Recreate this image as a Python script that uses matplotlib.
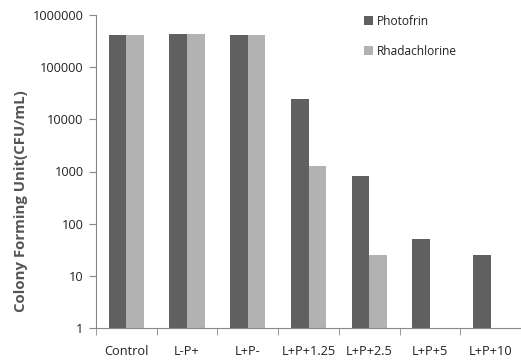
import matplotlib
matplotlib.use("Agg")
import matplotlib.pyplot as plt
import numpy as np
from matplotlib.ticker import FixedLocator, NullLocator, FixedFormatter

categories = ["Control", "L-P+", "L+P-", "L+P+1.25", "L+P+2.5", "L+P+5", "L+P+10"]
photofrin = [420000, 440000, 410000, 24000, 830, 50, 25]
rhadachlorine = [420000, 440000, 410000, 1300, 25, np.nan, np.nan]
y_ticks = [1, 10, 100, 1000, 10000, 100000, 1000000]
y_tick_labels = ["1", "10", "100", "1000", "10000", "100000", "1000000"]

plt.rcParams['font.family'] = ['Open Sans', 'DejaVu Sans']

fig = plt.figure(figsize=(5.21, 3.61), dpi=100)
ax = fig.add_axes([96 / 521, 1 - 328 / 361, 425 / 521, 313 / 361])

x = np.arange(len(categories))
w = 0.29
ax.bar(x - w / 2, photofrin, width=w, color="#606060", label="Photofrin", zorder=2)
ax.bar(x + w / 2, rhadachlorine, width=w, color="#b2b2b2", label="Rhadachlorine", zorder=2)

ax.set_yscale("log")
ax.set_ylim(1, 1000000)
ax.set_xlim(-0.5, len(categories) - 0.5)
ax.yaxis.set_major_locator(FixedLocator(y_ticks))
ax.yaxis.set_major_formatter(FixedFormatter(y_tick_labels))
ax.yaxis.set_minor_locator(NullLocator())

ax.set_xticks(x)
ax.set_xticklabels(categories)
ax.set_xticks(np.arange(len(categories) + 1) - 0.5, minor=True)
ax.tick_params(axis="x", which="major", length=0, pad=12, labelsize=9.2, labelcolor="#222222")
ax.tick_params(axis="x", which="minor", length=5, color="#888888", direction="out")
ax.tick_params(axis="y", which="major", length=5, color="#888888", labelsize=9.2, labelcolor="#222222", pad=4)

for s in ["top", "right"]:
    ax.spines[s].set_visible(False)
for s in ["left", "bottom"]:
    ax.spines[s].set_color("#888888")
    ax.spines[s].set_linewidth(0.8)

ax.set_ylabel("Colony Forming Unit(CFU/mL)", fontsize=10.8, fontweight="bold", color="#555555")
ax.yaxis.set_label_coords(-0.16, 0.406)

leg = ax.legend(loc="upper left", bbox_to_anchor=(0.605, 1.035), frameon=False, fontsize=8.6,
                handlelength=0.75, handleheight=0.75, handletextpad=0.35, labelspacing=1.4)
for t in leg.get_texts():
    t.set_color("#222222")

fig.savefig("out.png", dpi=100)
